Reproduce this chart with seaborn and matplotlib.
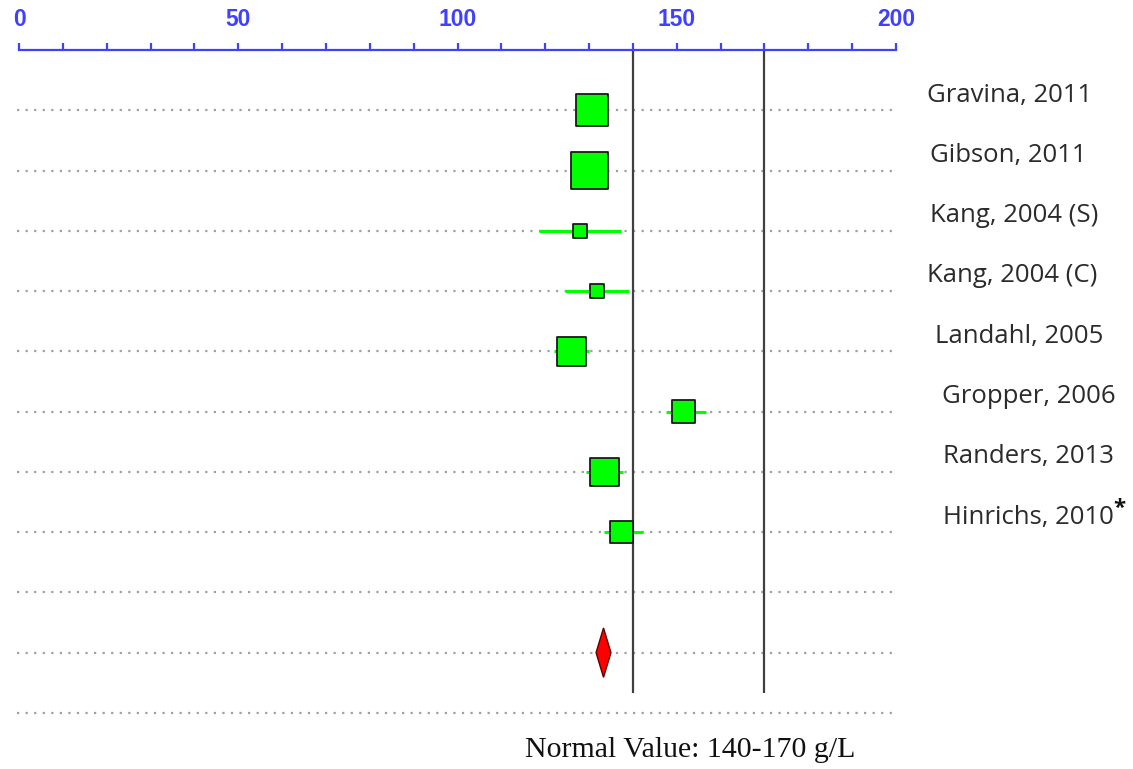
import matplotlib.pyplot as plt
import matplotlib as mpl
from matplotlib.ticker import MultipleLocator
import seaborn as sns
import pandas as pd

# study estimates (g/L)
studies = ['Gravina, 2011', 'Gibson, 2011', 'Kang, 2004 (S)', 'Kang, 2004 (C)',
           'Landahl, 2005', 'Gropper, 2006', 'Randers, 2013', 'Hinrichs, 2010']
means = [130.6, 130.1, 127.9, 131.8, 126.1, 151.6, 133.5, 137.4]
ci_low = [129.0, 128.6, 118.6, 124.6, 122.1, 147.5, 129.3, 133.3]
ci_high = [132.2, 131.6, 137.3, 139.2, 130.1, 156.6, 137.7, 142.4]
weights = [18.6, 24.9, 3.6, 3.3, 15.5, 9.8, 14.8, 9.5]

pooled = [131.6, 133.3, 135.0]   # low, estimate, high
normal_range = [140, 170]
n_rows = 11

label_x = [207.1, 207.7, 207.7, 207.1, 208.8, 210.5, 210.7, 210.7]

sns.set_theme(style="white")
plt.rcParams['font.family'] = ['Open Sans', 'DejaVu Sans']

df = pd.DataFrame({'study': studies, 'mean': means, 'lo': ci_low,
                   'hi': ci_high, 'weight': weights})
df['row'] = range(len(df))

fig = plt.figure(figsize=(11.33, 7.69), dpi=100)
ax = fig.add_axes([19 / 1133, 0.0494, 877 / 1133, 0.8856])

blue = '#4040ff'

# dotted row guides
ax.hlines(range(n_rows), -0.5, 200, colors='#a0a0a0', linestyles=(0, (1, 2.85)),
          linewidth=1.6, clip_on=False, zorder=1)

# normal value lines
ax.vlines(normal_range, -1, 9.67, colors='#404040', linewidth=1.6, zorder=2)

# confidence intervals
ax.hlines(df['row'], df['lo'], df['hi'], colors='#00ff00', linewidth=2.2, zorder=3)

sns.scatterplot(data=df, x='mean', y='row', size='weight', sizes=(0, 700),
                size_norm=(0, 25), marker='s', color='#00ff00', edgecolor='#1a1a1a',
                linewidth=1.3, legend=False, zorder=4, ax=ax)

# pooled diamond
prow = 9
ax.fill([pooled[0], pooled[1], pooled[2], pooled[1]],
        [prow, prow - 0.41, prow, prow + 0.41],
        facecolor='#ff0000', edgecolor='#600000', linewidth=1, zorder=4)

for i, s in enumerate(studies):
    t = ax.text(label_x[i], i - 0.25, s, ha='left', va='center', fontsize=18.5,
                color='#2b2b2b', clip_on=False)
    if s.startswith('Hinrichs'):
        ax.annotate('*', xy=(1, 1), xycoords=t, xytext=(0, 5),
                    textcoords='offset points', ha='left', va='top',
                    fontsize=16, fontweight='bold', color='#111111')

ax.set_xlim(0, 200)
ax.set_ylim(10.3, -1)
ax.set_xlabel('')
ax.set_ylabel('')
ax.set_yticks([])

for side in ['left', 'right', 'bottom']:
    ax.spines[side].set_visible(False)
ax.spines['top'].set_color(blue)
ax.spines['top'].set_linewidth(1.6)
ax.spines['top'].set_position(('data', -1))

ax.xaxis.tick_top()
ax.xaxis.set_major_locator(MultipleLocator(50))
ax.xaxis.set_minor_locator(MultipleLocator(10))
ax.tick_params(axis='x', which='major', direction='out', length=5, width=1.6,
               color=blue, labelcolor=blue, pad=9, labelsize=16.5)
ax.tick_params(axis='x', which='minor', direction='out', length=5, width=1.6,
               color=blue)
for lab in ax.get_xticklabels():
    lab.set_fontfamily('Liberation Sans')
    lab.set_fontweight('bold')

fig.text(690 / 1133, 1 - 750 / 769, 'Normal Value: 140-170 g/L', ha='center',
         va='center', fontsize=21.5, family='Liberation Serif', color='#111111')

plt.savefig('out.png', dpi=100)
